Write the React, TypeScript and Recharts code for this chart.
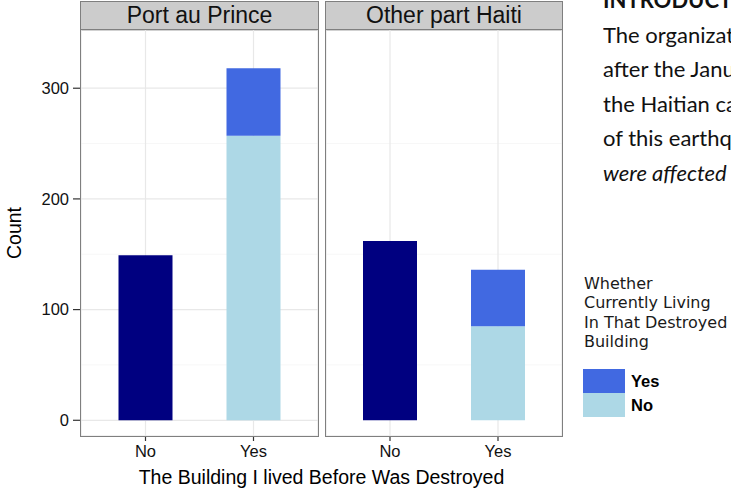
import { Bar, BarChart, CartesianGrid, XAxis, YAxis } from "recharts"

const facets = ["Port au Prince", "Other part Haiti"]
const categories = ["No", "Yes"]
// bars for "No" (building not destroyed) have no sub-split
const notDestroyed = [149, 162]
// "Yes" bars split by whether they still live in that building
const stillLivingNo = [257, 85]
const stillLivingYes = [61, 51]
const yTicks = [0, 100, 200, 300]
const yMinorTicks = [50, 150, 250]
const legendLabels = ["Yes", "No"]
const introLines = ["The organization", "after the January", "the Haitian capital", "of this earthquake"]

const NAVY = "#000080"
const ROYAL = "#4169E1"
const LIGHT = "#ADD8E6"
const BORDER = "#7F7F7F"
const FONT = "'Liberation Sans', Arial, Helvetica, sans-serif"

const PANEL_TOP = 30
const PANEL_BOTTOM = 436
const X_AXIS_H = 30
const Y_DOMAIN: [number, number] = [-14.2, 352.6]
const TICK_FONT = 16.5

const panels = [
  { left: 0, plotLeft: 81, plotRight: 318, yWidth: 81, pad: 10.5 },
  { left: 326, plotLeft: 326, plotRight: 562, yWidth: 0, pad: 10 },
]

const facetData = (i: number) => [
  { building: categories[0], navy: notDestroyed[i], no: 0, yes: 0 },
  { building: categories[1], navy: 0, no: stillLivingNo[i], yes: stillLivingYes[i] },
]

const Panel = ({ index }: { index: number }) => {
  const p = panels[index]
  const width = p.plotRight - p.left + 2
  return (
    <>
      <div
        style={{
          position: "absolute", left: p.plotLeft - 1, top: 1, width: p.plotRight - p.plotLeft + 2,
          height: PANEL_TOP, boxSizing: "border-box", background: "#CCCCCC", border: `1.5px solid ${BORDER}`,
          textAlign: "center", fontSize: 23, lineHeight: "27px", color: "#111",
        }}
      >
        {facets[index]}
      </div>
      <div style={{ position: "absolute", left: p.left, top: PANEL_TOP }}>
        <BarChart
          width={width}
          height={PANEL_BOTTOM - PANEL_TOP + X_AXIS_H}
          data={facetData(index)}
          margin={{ top: 0, right: 2, bottom: 0, left: 0 }}
          barSize={54}
        >
          <CartesianGrid yAxisId="minor" vertical={false} stroke="#F7F7F7" strokeWidth={1} />
          <CartesianGrid stroke="#E8E8E8" strokeWidth={1.2} />
          <XAxis
            dataKey="building"
            height={X_AXIS_H}
            padding={{ left: p.pad, right: p.pad }}
            axisLine={false}
            tickSize={5}
            tickMargin={4}
            fontSize={TICK_FONT}
            tickLine={{ stroke: "#333", strokeWidth: 1.2 }}
            tick={{ fontSize: TICK_FONT, fill: "#111", fontFamily: FONT }}
          />
          <YAxis yAxisId="minor" hide domain={Y_DOMAIN} ticks={yMinorTicks} allowDataOverflow />
          <YAxis
            width={p.yWidth}
            domain={Y_DOMAIN}
            ticks={yTicks}
            allowDataOverflow
            axisLine={false}
            tickSize={8}
            tickMargin={4}
            fontSize={TICK_FONT}
            tickLine={p.yWidth ? { stroke: "#333", strokeWidth: 1.2 } : false}
            tick={p.yWidth ? { fontSize: TICK_FONT, fill: "#111", fontFamily: FONT } : false}
          />
          <Bar dataKey="navy" stackId="a" fill={NAVY} isAnimationActive={false} />
          <Bar dataKey="no" stackId="a" fill={LIGHT} isAnimationActive={false} />
          <Bar dataKey="yes" stackId="a" fill={ROYAL} isAnimationActive={false} />
        </BarChart>
      </div>
      <div
        style={{
          position: "absolute", left: p.plotLeft - 1, top: PANEL_TOP - 1, width: p.plotRight - p.plotLeft + 2,
          height: PANEL_BOTTOM - PANEL_TOP + 2, boxSizing: "border-box", border: `1.5px solid ${BORDER}`,
          pointerEvents: "none",
        }}
      />
    </>
  )
}

const App = () => {
  const legendColors: Record<string, string> = { Yes: ROYAL, No: LIGHT }
  return (
    <div
      style={{
        position: "absolute", left: 0, top: 0, width: 731, height: 495, overflow: "hidden",
        background: "#fff", fontFamily: FONT,
      }}
    >
      <Panel index={0} />
      <Panel index={1} />

      <div
        style={{
          position: "absolute", left: 14, top: 233, transform: "translate(-50%, -50%) rotate(-90deg)",
          fontSize: 19.5, whiteSpace: "nowrap", color: "#000",
        }}
      >
        Count
      </div>
      <div
        style={{
          position: "absolute", left: 321.5, top: 466, transform: "translateX(-50%)",
          fontSize: 19.5, whiteSpace: "nowrap", color: "#000",
        }}
      >
        The Building I lived Before Was Destroyed
      </div>

      <div
        style={{
          position: "absolute", left: 584, top: 274, fontFamily: "'DejaVu Sans', Verdana, sans-serif",
          fontSize: 16, lineHeight: "19.3px", color: "#1a1a1a", whiteSpace: "nowrap",
        }}
      >
        <div>Whether</div>
        <div>Currently Living</div>
        <div>In That Destroyed</div>
        <div>Building</div>
      </div>
      <div style={{ position: "absolute", left: 583, top: 369 }}>
        {legendLabels.map((l) => (
          <div key={l} style={{ display: "flex", alignItems: "center", height: 24 }}>
            <div style={{ width: 42, height: 24, background: legendColors[l] }} />
            <span style={{ marginLeft: 6, fontSize: 16.5, fontWeight: "bold", color: "#000" }}>{l}</span>
          </div>
        ))}
      </div>

      <div
        style={{
          position: "absolute", left: 603, top: -17, width: 128, overflow: "hidden",
          fontFamily: "Lato, 'Open Sans', sans-serif", fontSize: 22, lineHeight: "34.5px",
          color: "#111", whiteSpace: "nowrap",
        }}
      >
        <div style={{ fontWeight: "bold" }}>INTRODUCTION</div>
        {introLines.map((t) => (
          <div key={t}>{t}</div>
        ))}
        <div style={{ fontStyle: "italic" }}>were affected</div>
      </div>
    </div>
  )
}

export default App
